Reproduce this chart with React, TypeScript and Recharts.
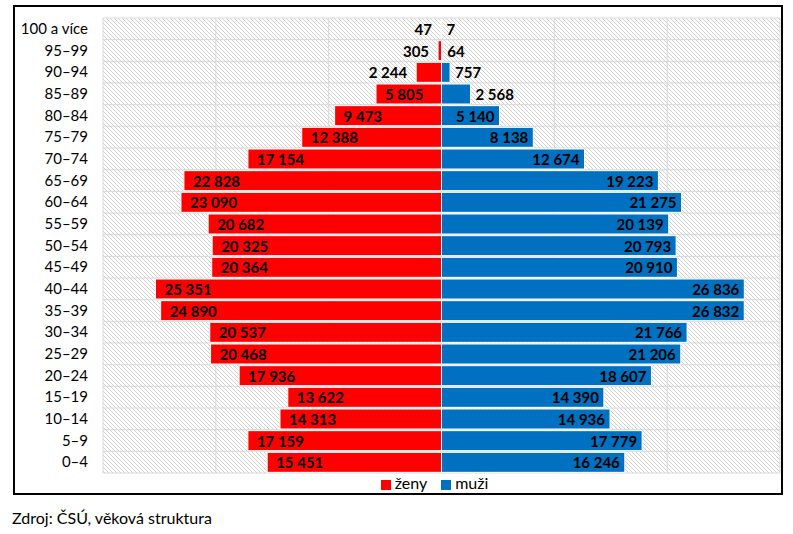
import React from "react";
import { BarChart, Bar, XAxis, YAxis, CartesianGrid, Legend, LabelList } from "recharts";

const ageGroups = [
  "100 a více", "95–99", "90–94", "85–89", "80–84", "75–79", "70–74", "65–69", "60–64", "55–59", "50–54",
  "45–49", "40–44", "35–39", "30–34", "25–29", "20–24", "15–19", "10–14", "5–9", "0–4",
];
const women = [47, 305, 2244, 5805, 9473, 12388, 17154, 22828, 23090, 20682, 20325, 20364, 25351, 24890, 20537, 20468, 17936, 13622, 14313, 17159, 15451];
const men = [7, 64, 757, 2568, 5140, 8138, 12674, 19223, 21275, 20139, 20793, 20910, 26836, 26832, 21766, 21206, 18607, 14390, 14936, 17779, 16246];
const xTicks = [-30000, -20000, -10000, 0, 10000, 20000, 30000];
const seriesOrder = ["ženy", "muži"];

const data = ageGroups.map((age, i) => ({
  age,
  zeny: -women[i],
  muzi: men[i],
  zenyLabel: women[i],
  muziLabel: men[i],
}));

const FONT = "Lato, 'Open Sans', sans-serif";
const fmt = (v: number) => String(v).replace(/\B(?=(\d{3})+(?!\d))/g, " ");

const makeLabel = (side: "left" | "right") => (props: any) => {
  const { x, y, width, height, value } = props;
  const l = Math.min(x, x + width);
  const r = Math.max(x, x + width);
  const cy = y + height / 2;
  const inside = value >= 4000;
  let tx: number;
  let anchor: "start" | "end";
  if (side === "left") {
    tx = inside ? l + 9 : l - 9;
    anchor = inside ? "start" : "end";
  } else {
    tx = inside ? r - 5 : r + 5;
    anchor = inside ? "end" : "start";
  }
  return (
    <text x={tx} y={cy} textAnchor={anchor} dominantBaseline="central" fill="#000" fontSize={15} fontWeight={700} fontFamily={FONT}>
      {fmt(value)}
    </text>
  );
};

export default function App() {
  return (
    <div style={{ position: "absolute", left: 0, top: 0, width: 793, height: 534, background: "#fff" }}>
      <div style={{ position: "absolute", left: 13, top: 5, width: 770, height: 490, border: "2px solid #000", boxSizing: "border-box" }} />
      <div style={{ position: "absolute", left: 0, top: 0 }}>
        <BarChart width={793} height={534} data={data} layout="vertical" stackOffset="sign"
          margin={{ top: 18, right: 13, left: 0, bottom: 42 }} barCategoryGap={1}>
          <defs>
            <pattern id="hatch" patternUnits="userSpaceOnUse" width={4} height={4}>
              <rect width={4} height={4} fill="#fff" />
              <path d="M-1,-1 L5,5 M-1,3 L1,5 M3,-1 L5,1" stroke="#c4c4c4" strokeWidth={0.8} />
            </pattern>
          </defs>
          <CartesianGrid fill="url(#hatch)" fillOpacity={1} stroke="#d9d9d9" strokeWidth={1}
            horizontalCoordinatesGenerator={({ offset }: any) =>
              ageGroups.map((_, i) => offset.top + (i * offset.height) / ageGroups.length).concat(offset.top + offset.height)
            } />
          <XAxis type="number" domain={[-30000, 30000]} ticks={xTicks} hide />
          <YAxis type="category" dataKey="age" width={103} tickLine={false} axisLine={false} tickSize={0} tickMargin={15}
            interval={0} tick={{ fill: "#000", fontSize: 15, fontFamily: FONT }} />
          <Legend verticalAlign="bottom" align="center" iconType="square" iconSize={10}
            itemSorter={(item: any) => seriesOrder.indexOf(item.value)}
            wrapperStyle={{ left: 103, width: 677, fontFamily: FONT, fontSize: 16 }}
            formatter={(v: string) => <span style={{ color: "#000", marginRight: 4 }}>{v}</span>} />
          <Bar dataKey="zeny" name="ženy" stackId="a" fill="#FF0000" stroke="#fff" strokeWidth={1} isAnimationActive={false}>
            <LabelList dataKey="zenyLabel" content={makeLabel("left")} />
          </Bar>
          <Bar dataKey="muzi" name="muži" stackId="a" fill="#0070C0" stroke="#fff" strokeWidth={1} isAnimationActive={false}>
            <LabelList dataKey="muziLabel" content={makeLabel("right")} />
          </Bar>
        </BarChart>
      </div>
      <div style={{ position: "absolute", left: 12, top: 508, fontFamily: FONT, fontSize: 16, color: "#000" }}>
        Zdroj: ČSÚ, věková struktura
      </div>
    </div>
  );
}
